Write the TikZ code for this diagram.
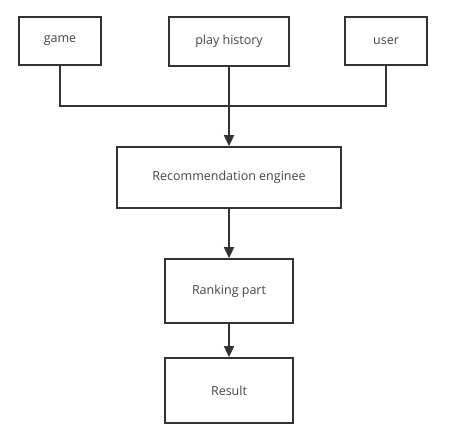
\documentclass[tikz,border=0pt]{standalone}
\usepackage{fontspec}
\setmainfont{Open Sans}
\usetikzlibrary{arrows.meta}
\definecolor{ln}{HTML}{333333}
\definecolor{tx}{HTML}{444444}
\begin{document}
\begin{tikzpicture}[x=1pt,y=-1pt,
  box/.style={draw=ln,line width=1.7pt,fill=white,text=tx,font=\fontsize{12.5}{14}\selectfont,inner sep=0pt},
  conn/.style={draw=ln,line width=1.7pt},
  arr/.style={conn,-{Triangle[length=11pt,width=10pt]}}]
\useasboundingbox (0,0) rectangle (449,446);
\node[box,minimum width=82pt,minimum height=48pt] (game) at (60,41) {game};
\node[box,minimum width=120pt,minimum height=49pt] (hist) at (229,41.5) {play history};
\node[box,minimum width=82pt,minimum height=48pt] (user) at (386,41) {user};
\node[box,minimum width=224pt,minimum height=61pt] (rec) at (229,177.5) {Recommendation enginee};
\node[box,minimum width=128pt,minimum height=64pt] (rank) at (229,291) {Ranking part};
\node[box,minimum width=128pt,minimum height=65pt] (res) at (229,390.5) {Result};
\coordinate (j) at (229,106);
\draw[conn] (game.south) |- (j);
\draw[conn] (user.south) |- (j);
\draw[arr] (hist.south) -- (rec.north);
\draw[arr] (rec.south) -- (rank.north);
\draw[arr] (rank.south) -- (res.north);
\end{tikzpicture}
\end{document}
